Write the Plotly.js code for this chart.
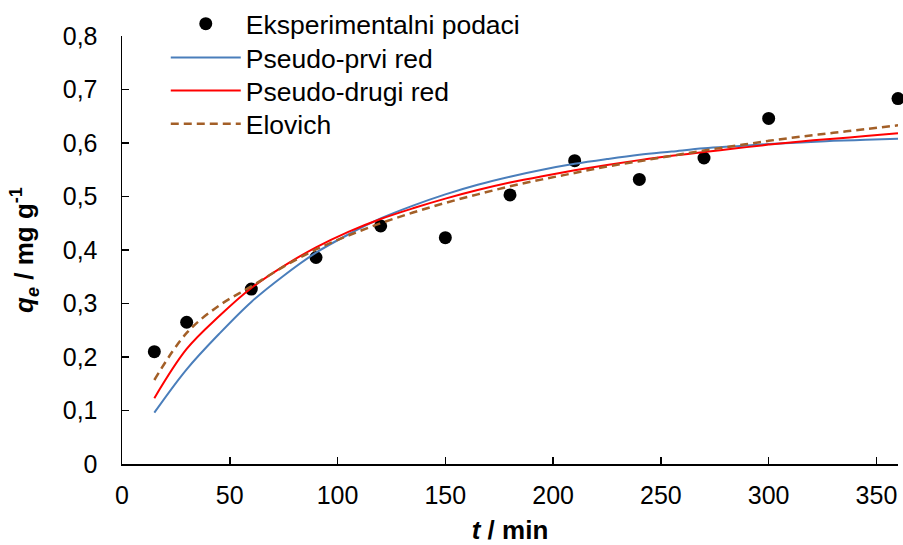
<!DOCTYPE html>
<html>
<head>
<meta charset="utf-8">
<script src="https://cdn.plot.ly/plotly-3.0.1.min.js"></script>
<style>
  html, body { margin: 0; padding: 0; background: #fff; }
  #chart { width: 903px; height: 545px; }
</style>
</head>
<body>
<div id="chart"></div>
<script>
// Experimental points
const tExp = [15, 30, 60, 90, 120, 150, 180, 210, 240, 270, 300, 360];
const qExp = [0.210, 0.265, 0.327, 0.386, 0.445, 0.423, 0.503, 0.567, 0.532, 0.572, 0.646, 0.683];

// Model curves
const tFit = [15, 30, 45, 60, 75, 90, 105, 120, 135, 150, 165, 180, 195, 210, 225, 240, 255, 270, 285, 300, 315, 330, 345, 360];
const qPseudo1 = [0.096, 0.177, 0.243, 0.303, 0.352, 0.395, 0.429, 0.459, 0.483, 0.504, 0.522, 0.537, 0.550, 0.561, 0.570, 0.578, 0.584, 0.590, 0.594, 0.598, 0.601, 0.604, 0.606, 0.608];
const qPseudo2 = [0.123, 0.215, 0.276, 0.329, 0.370, 0.405, 0.434, 0.458, 0.478, 0.496, 0.512, 0.526, 0.538, 0.549, 0.559, 0.568, 0.576, 0.583, 0.590, 0.597, 0.603, 0.608, 0.613, 0.618];
const qElovich = [0.157, 0.245, 0.296, 0.332, 0.369, 0.401, 0.427, 0.450, 0.470, 0.488, 0.504, 0.519, 0.532, 0.544, 0.556, 0.566, 0.576, 0.586, 0.595, 0.604, 0.612, 0.619, 0.626, 0.633];

// Labels
const seriesNames = ['Eksperimentalni podaci', 'Pseudo-prvi red', 'Pseudo-drugi red', 'Elovich'];
const xTickVals = [0, 50, 100, 150, 200, 250, 300, 350];
const xTickText = ['0', '50', '100', '150', '200', '250', '300', '350'];
const yTickVals = [0, 0.1, 0.2, 0.3, 0.4, 0.5, 0.6, 0.7, 0.8];
const yTickText = ['0', '0,1', '0,2', '0,3', '0,4', '0,5', '0,6', '0,7', '0,8'];
const xTitle = '<b><i>t</i> / min</b>';
const yTitle = '<b><i>q</i><sub><i>e</i></sub> / mg g<sup>-1</sup></b>';

const FONT = 'Liberation Sans, Arial, sans-serif';

const traces = [
  {
    x: tExp, y: qExp, name: seriesNames[0], type: 'scatter', mode: 'markers',
    marker: { color: '#000000', size: 13 }, cliponaxis: false, legend: 'legend'
  },
  {
    x: tFit, y: qPseudo1, name: seriesNames[1], type: 'scatter', mode: 'lines',
    line: { color: '#4a7ebb', width: 2, shape: 'spline' }, legend: 'legend2'
  },
  {
    x: tFit, y: qPseudo2, name: seriesNames[2], type: 'scatter', mode: 'lines',
    line: { color: '#ff0000', width: 2, shape: 'spline' }, legend: 'legend3'
  },
  {
    x: tFit, y: qElovich, name: seriesNames[3], type: 'scatter', mode: 'lines',
    line: { color: '#a35f27', width: 2.5, dash: '8px,5px', shape: 'spline' }, legend: 'legend4'
  }
];

function legendAt(yContainer) {
  return {
    x: 0.0564, y: yContainer, xanchor: 'left', yanchor: 'middle', yref: 'container',
    bgcolor: 'rgba(0,0,0,0)', borderwidth: 0,
    font: { family: FONT, size: 26.5, color: '#000000' },
    itemwidth: 70, tracegroupgap: 0
  };
}

const layout = {
  width: 903, height: 545,
  margin: { l: 122, r: 5, t: 36, b: 81, pad: 0, autoexpand: false },
  paper_bgcolor: '#ffffff', plot_bgcolor: '#ffffff',
  font: { family: FONT, size: 25, color: '#000000' },
  showlegend: true,
  legend: legendAt(0.956),
  legend2: legendAt(0.894),
  legend3: legendAt(0.8336),
  legend4: legendAt(0.7725),
  xaxis: {
    range: [0, 360], tickvals: xTickVals, ticktext: xTickText,
    showgrid: false, zeroline: false, showline: true, linecolor: '#000000', linewidth: 1.5,
    ticks: 'inside', ticklen: 7, tickwidth: 1.5, tickcolor: '#000000',
    ticklabelstandoff: 8,
    tickfont: { family: FONT, size: 25, color: '#000000' },
    title: { text: xTitle, font: { family: FONT, size: 26, color: '#000000' }, standoff: 18 }
  },
  yaxis: {
    range: [0, 0.8], tickvals: yTickVals, ticktext: yTickText,
    showgrid: false, zeroline: false, showline: true, linecolor: '#000000', linewidth: 1.5,
    ticks: 'inside', ticklen: 7, tickwidth: 1.5, tickcolor: '#000000',
    ticklabelstandoff: 18,
    tickfont: { family: FONT, size: 25, color: '#000000' },
    title: { text: yTitle, font: { family: FONT, size: 26, color: '#000000' }, standoff: 21 }
  }
};

Plotly.newPlot('chart', traces, layout, { displayModeBar: false, staticPlot: true });
</script>
</body>
</html>
